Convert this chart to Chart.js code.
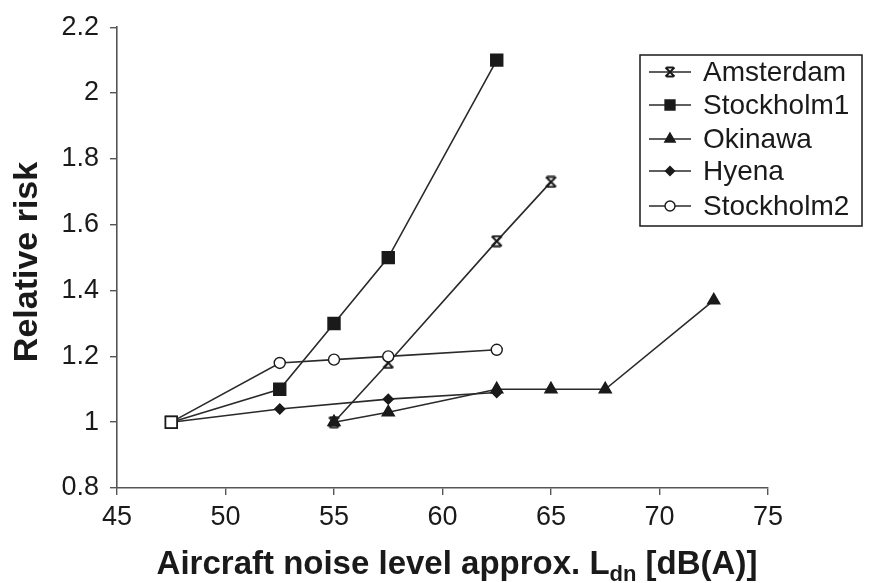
<!DOCTYPE html>
<html>
<head>
<meta charset="utf-8">
<script src="https://cdn.jsdelivr.net/npm/chart.js@4.4.1/dist/chart.umd.min.js"></script>
<style>
  html, body { margin: 0; padding: 0; background: #fff; }
  #wrap { width: 870px; height: 583px; }
</style>
</head>
<body>
<div id="wrap"><canvas id="noise-chart" width="870" height="583"></canvas></div>
<script>
// ---- data ----
const seriesNames = ['Amsterdam', 'Stockholm1', 'Okinawa', 'Hyena', 'Stockholm2'];
const amsterdamX = [55, 57.5, 62.5, 65];
const amsterdamY = [1.0, 1.18, 1.55, 1.73];
const stockholm1X = [47.5, 52.5, 55, 57.5, 62.5];
const stockholm1Y = [1.0, 1.1, 1.3, 1.5, 2.1];
const okinawaX = [55, 57.5, 62.5, 65, 67.5, 72.5];
const okinawaY = [1.0, 1.03, 1.1, 1.1, 1.1, 1.37];
const hyenaX = [47.5, 52.5, 57.5, 62.5];
const hyenaY = [1.0, 1.04, 1.07, 1.09];
const stockholm2X = [47.5, 52.5, 55, 57.5, 62.5];
const stockholm2Y = [1.0, 1.18, 1.19, 1.2, 1.22];
const xTicks = [45, 50, 55, 60, 65, 70, 75];
const yTicks = [0.8, 1, 1.2, 1.4, 1.6, 1.8, 2, 2.2];

const FONT = "'Liberation Sans', Arial, sans-serif";
const INK = '#1a1a1a';

// hourglass-like cross used for Amsterdam
function makeHourglass(size) {
    const c = document.createElement('canvas');
    c.width = size;
    c.height = size;
    const g = c.getContext('2d');
    const a = 1.5, b = size - 1.5;
    g.strokeStyle = INK;
    g.lineWidth = 2;
    g.beginPath();
    g.moveTo(a, a); g.lineTo(b, b);
    g.moveTo(b, a); g.lineTo(a, b);
    g.moveTo(a + 1, a); g.lineTo(b - 1, a);
    g.moveTo(a + 1, b); g.lineTo(b - 1, b);
    g.stroke();
    return c;
}
const hourglass = makeHourglass(13);
const hourglassSmall = makeHourglass(12);

// zip x and y arrays into points
function toPoints(xs, ys) {
    const pts = [];
    for (let i = 0; i < xs.length; i++) {
        pts.push({ x: xs[i], y: ys[i] });
    }
    return pts;
}

function makeSet(label, xs, ys, style, fill, radius) {
    return {
        label: label,
        data: toPoints(xs, ys),
        showLine: true,
        borderColor: '#2a2a2a',
        borderWidth: 1.6,
        pointStyle: style,
        pointRadius: radius,
        pointBackgroundColor: fill,
        pointBorderColor: INK,
        pointBorderWidth: 1.4,
        tension: 0
    };
}

const datasets = [
    makeSet(seriesNames[0], amsterdamX, amsterdamY, hourglass, INK, 6),
    makeSet(seriesNames[1], stockholm1X, stockholm1Y, 'rect', INK, 8.5),
    makeSet(seriesNames[2], okinawaX, okinawaY, 'triangle', INK, 7),
    makeSet(seriesNames[3], hyenaX, hyenaY, 'rectRot', INK, 5),
    makeSet(seriesNames[4], stockholm2X, stockholm2Y, 'circle', '#fff', 5.5)
];
// first point of the last series shows as an open square in the figure, on top
datasets[4].pointStyle = ['rect', 'circle', 'circle', 'circle', 'circle'];
datasets[4].pointRadius = [8, 5.5, 5.5, 5.5, 5.5];
datasets[4].order = -1;

// legend box drawn inside the plot, like the original
const legendStyles = [hourglassSmall, 'rect', 'triangle', 'rectRot', 'circle'];
const legendRadius = [6, 7, 6, 4.5, 5];
const boxLegend = {
    id: 'boxLegend',
    afterDraw(chart) {
        const ctx = chart.ctx;
        const left = 640, top = 55, right = 862, bottom = 226;
        const rowY = [72, 105, 139, 171, 206];
        ctx.save();
        ctx.fillStyle = '#fff';
        ctx.fillRect(left, top, right - left, bottom - top);
        ctx.strokeStyle = INK;
        ctx.lineWidth = 1.5;
        ctx.strokeRect(left, top, right - left, bottom - top);
        ctx.font = '28px ' + FONT;
        ctx.textBaseline = 'middle';
        ctx.textAlign = 'left';
        chart.data.datasets.forEach((ds, i) => {
            const y = rowY[i];
            ctx.strokeStyle = ds.borderColor;
            ctx.lineWidth = ds.borderWidth;
            ctx.beginPath();
            ctx.moveTo(649, y);
            ctx.lineTo(691, y);
            ctx.stroke();
            ctx.fillStyle = ds.pointBackgroundColor;
            ctx.strokeStyle = ds.pointBorderColor;
            ctx.lineWidth = ds.pointBorderWidth;
            Chart.helpers.drawPoint(ctx, {
                pointStyle: legendStyles[i],
                radius: legendRadius[i],
                rotation: 0,
                borderWidth: ds.pointBorderWidth
            }, 670, y);
            ctx.fillStyle = INK;
            ctx.fillText(ds.label, 703, y + 1);
        });
        ctx.restore();
    }
};

// axis titles: x has the subscript "dn", y is rotated
const axisTitles = {
    id: 'axisTitles',
    afterDraw(chart) {
        const ctx = chart.ctx;
        const part1 = 'Aircraft noise level approx. L';
        const sub = 'dn';
        const part2 = ' [dB(A)]';
        const big = 'bold 33px ' + FONT;
        const small = 'bold 22px ' + FONT;
        ctx.save();
        ctx.fillStyle = INK;
        ctx.textBaseline = 'alphabetic';
        ctx.textAlign = 'left';
        ctx.font = big;
        const w1 = ctx.measureText(part1).width;
        const w3 = ctx.measureText(part2).width;
        ctx.font = small;
        const w2 = ctx.measureText(sub).width;
        let x = 457 - (w1 + w2 + w3) / 2;
        const y = 574;
        ctx.font = big;
        ctx.fillText(part1, x, y);
        x += w1;
        ctx.font = small;
        ctx.fillText(sub, x, y + 7);
        x += w2;
        ctx.font = big;
        ctx.fillText(part2, x, y);

        ctx.translate(28, 262);
        ctx.rotate(-Math.PI / 2);
        ctx.textAlign = 'center';
        ctx.textBaseline = 'middle';
        ctx.font = 'bold 34px ' + FONT;
        ctx.fillText('Relative risk', 0, 0);
        ctx.restore();
    }
};

const ctx = document.getElementById('noise-chart').getContext('2d');
const chart = new Chart(ctx, {
    type: 'scatter',
    data: { datasets: datasets },
    options: {
        responsive: false,
        animation: false,
        layout: { padding: { top: 25, right: 102, left: 0, bottom: 0 } },
        plugins: {
            legend: { display: false },
            tooltip: { enabled: false }
        },
        scales: {
            x: {
                type: 'linear',
                min: 45,
                max: 75,
                afterBuildTicks: (scale) => { scale.ticks = xTicks.map(v => ({ value: v })); },
                afterFit: (scale) => { scale.height = 95; },
                border: { color: '#555', width: 1.6 },
                grid: { drawOnChartArea: false, drawTicks: true, tickLength: 7, color: '#555', lineWidth: 1.4 },
                ticks: {
                    color: INK,
                    font: { family: FONT, size: 27 },
                    padding: 6,
                    maxRotation: 0
                }
            },
            y: {
                type: 'linear',
                min: 0.8,
                max: 2.2,
                afterBuildTicks: (scale) => { scale.ticks = yTicks.map(v => ({ value: v })); },
                afterFit: (scale) => { scale.width = 117; },
                border: { color: '#555', width: 1.6 },
                grid: { drawOnChartArea: false, drawTicks: true, tickLength: 7, color: '#555', lineWidth: 1.4 },
                ticks: {
                    color: INK,
                    font: { family: FONT, size: 27 },
                    padding: 11,
                    callback: (v) => String(Math.round(v * 10) / 10)
                }
            }
        }
    },
    plugins: [boxLegend, axisTitles]
});
</script>
</body>
</html>
